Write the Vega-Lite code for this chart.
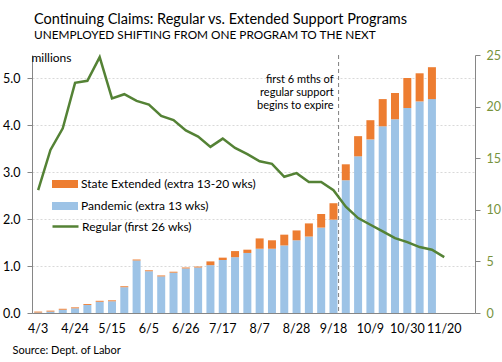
{
  "$schema": "https://vega.github.io/schema/vega-lite/v6.json",
  "autosize": {"type": "none"},
  "padding": {"left": 32, "top": 55, "right": 27, "bottom": 49},
  "width": 443,
  "height": 258,
  "background": "white",
  "config": {
    "view": {"stroke": null},
    "font": "Lato",
    "axis": {"labelFont": "Lato", "titleFont": "Lato", "labelColor": "#000000", "titleColor": "#000000", "domainColor": "#868686", "tickColor": "#868686", "titleFontWeight": "normal"}
  },
  "title": {
    "text": "Continuing Claims: Regular vs. Extended Support  Programs",
    "subtitle": "UNEMPLOYED  SHIFTING FROM ONE PROGRAM  TO THE NEXT",
    "anchor": "start",
    "frame": "group",
    "font": "Lato",
    "fontSize": 14.5,
    "fontWeight": "normal",
    "color": "#000000",
    "subtitleFont": "Lato",
    "subtitleFontSize": 11.8,
    "subtitleColor": "#000000",
    "subtitlePadding": 3,
    "offset": 6,
    "dx": 2
  },
  "datasets": {
    "claims": [
      {"week": "4/3", "series": "Pandemic (extra 13 wks)", "millions": 0.01},
      {"week": "4/3", "series": "State Extended (extra 13-20 wks)", "millions": 0.02},
      {"week": "4/10", "series": "Pandemic (extra 13 wks)", "millions": 0.03},
      {"week": "4/10", "series": "State Extended (extra 13-20 wks)", "millions": 0.02},
      {"week": "4/17", "series": "Pandemic (extra 13 wks)", "millions": 0.07},
      {"week": "4/17", "series": "State Extended (extra 13-20 wks)", "millions": 0.02},
      {"week": "4/24", "series": "Pandemic (extra 13 wks)", "millions": 0.10},
      {"week": "4/24", "series": "State Extended (extra 13-20 wks)", "millions": 0.02},
      {"week": "5/1", "series": "Pandemic (extra 13 wks)", "millions": 0.17},
      {"week": "5/1", "series": "State Extended (extra 13-20 wks)", "millions": 0.02},
      {"week": "5/8", "series": "Pandemic (extra 13 wks)", "millions": 0.24},
      {"week": "5/8", "series": "State Extended (extra 13-20 wks)", "millions": 0.02},
      {"week": "5/15", "series": "Pandemic (extra 13 wks)", "millions": 0.25},
      {"week": "5/15", "series": "State Extended (extra 13-20 wks)", "millions": 0.02},
      {"week": "5/22", "series": "Pandemic (extra 13 wks)", "millions": 0.55},
      {"week": "5/22", "series": "State Extended (extra 13-20 wks)", "millions": 0.02},
      {"week": "5/29", "series": "Pandemic (extra 13 wks)", "millions": 1.12},
      {"week": "5/29", "series": "State Extended (extra 13-20 wks)", "millions": 0.02},
      {"week": "6/5", "series": "Pandemic (extra 13 wks)", "millions": 0.89},
      {"week": "6/5", "series": "State Extended (extra 13-20 wks)", "millions": 0.02},
      {"week": "6/12", "series": "Pandemic (extra 13 wks)", "millions": 0.78},
      {"week": "6/12", "series": "State Extended (extra 13-20 wks)", "millions": 0.02},
      {"week": "6/19", "series": "Pandemic (extra 13 wks)", "millions": 0.86},
      {"week": "6/19", "series": "State Extended (extra 13-20 wks)", "millions": 0.02},
      {"week": "6/26", "series": "Pandemic (extra 13 wks)", "millions": 0.95},
      {"week": "6/26", "series": "State Extended (extra 13-20 wks)", "millions": 0.02},
      {"week": "7/3", "series": "Pandemic (extra 13 wks)", "millions": 0.97},
      {"week": "7/3", "series": "State Extended (extra 13-20 wks)", "millions": 0.02},
      {"week": "7/10", "series": "Pandemic (extra 13 wks)", "millions": 1.02},
      {"week": "7/10", "series": "State Extended (extra 13-20 wks)", "millions": 0.08},
      {"week": "7/17", "series": "Pandemic (extra 13 wks)", "millions": 1.13},
      {"week": "7/17", "series": "State Extended (extra 13-20 wks)", "millions": 0.05},
      {"week": "7/24", "series": "Pandemic (extra 13 wks)", "millions": 1.19},
      {"week": "7/24", "series": "State Extended (extra 13-20 wks)", "millions": 0.13},
      {"week": "7/31", "series": "Pandemic (extra 13 wks)", "millions": 1.28},
      {"week": "7/31", "series": "State Extended (extra 13-20 wks)", "millions": 0.07},
      {"week": "8/7", "series": "Pandemic (extra 13 wks)", "millions": 1.37},
      {"week": "8/7", "series": "State Extended (extra 13-20 wks)", "millions": 0.22},
      {"week": "8/14", "series": "Pandemic (extra 13 wks)", "millions": 1.37},
      {"week": "8/14", "series": "State Extended (extra 13-20 wks)", "millions": 0.18},
      {"week": "8/21", "series": "Pandemic (extra 13 wks)", "millions": 1.44},
      {"week": "8/21", "series": "State Extended (extra 13-20 wks)", "millions": 0.23},
      {"week": "8/28", "series": "Pandemic (extra 13 wks)", "millions": 1.55},
      {"week": "8/28", "series": "State Extended (extra 13-20 wks)", "millions": 0.21},
      {"week": "9/4", "series": "Pandemic (extra 13 wks)", "millions": 1.63},
      {"week": "9/4", "series": "State Extended (extra 13-20 wks)", "millions": 0.28},
      {"week": "9/11", "series": "Pandemic (extra 13 wks)", "millions": 1.82},
      {"week": "9/11", "series": "State Extended (extra 13-20 wks)", "millions": 0.29},
      {"week": "9/18", "series": "Pandemic (extra 13 wks)", "millions": 1.99},
      {"week": "9/18", "series": "State Extended (extra 13-20 wks)", "millions": 0.35},
      {"week": "9/25", "series": "Pandemic (extra 13 wks)", "millions": 2.83},
      {"week": "9/25", "series": "State Extended (extra 13-20 wks)", "millions": 0.34},
      {"week": "10/2", "series": "Pandemic (extra 13 wks)", "millions": 3.34},
      {"week": "10/2", "series": "State Extended (extra 13-20 wks)", "millions": 0.43},
      {"week": "10/9", "series": "Pandemic (extra 13 wks)", "millions": 3.70},
      {"week": "10/9", "series": "State Extended (extra 13-20 wks)", "millions": 0.41},
      {"week": "10/16", "series": "Pandemic (extra 13 wks)", "millions": 3.98},
      {"week": "10/16", "series": "State Extended (extra 13-20 wks)", "millions": 0.58},
      {"week": "10/23", "series": "Pandemic (extra 13 wks)", "millions": 4.13},
      {"week": "10/23", "series": "State Extended (extra 13-20 wks)", "millions": 0.56},
      {"week": "10/30", "series": "Pandemic (extra 13 wks)", "millions": 4.37},
      {"week": "10/30", "series": "State Extended (extra 13-20 wks)", "millions": 0.64},
      {"week": "11/6", "series": "Pandemic (extra 13 wks)", "millions": 4.51},
      {"week": "11/6", "series": "State Extended (extra 13-20 wks)", "millions": 0.60},
      {"week": "11/13", "series": "Pandemic (extra 13 wks)", "millions": 4.56},
      {"week": "11/13", "series": "State Extended (extra 13-20 wks)", "millions": 0.68}
    ],
    "regular": [
      {"week": "4/3", "regular": 11.9},
      {"week": "4/10", "regular": 15.8},
      {"week": "4/17", "regular": 17.9},
      {"week": "4/24", "regular": 22.3},
      {"week": "5/1", "regular": 22.5},
      {"week": "5/8", "regular": 24.8},
      {"week": "5/15", "regular": 20.8},
      {"week": "5/22", "regular": 21.2},
      {"week": "5/29", "regular": 20.55},
      {"week": "6/5", "regular": 20.2},
      {"week": "6/12", "regular": 19.1},
      {"week": "6/19", "regular": 18.7},
      {"week": "6/26", "regular": 17.7},
      {"week": "7/3", "regular": 17.1},
      {"week": "7/10", "regular": 16.1},
      {"week": "7/17", "regular": 16.9},
      {"week": "7/24", "regular": 16.0},
      {"week": "7/31", "regular": 15.4},
      {"week": "8/7", "regular": 14.7},
      {"week": "8/14", "regular": 14.45},
      {"week": "8/21", "regular": 13.2},
      {"week": "8/28", "regular": 13.55},
      {"week": "9/4", "regular": 12.7},
      {"week": "9/11", "regular": 12.7},
      {"week": "9/18", "regular": 11.9},
      {"week": "9/25", "regular": 10.3},
      {"week": "10/2", "regular": 9.2},
      {"week": "10/9", "regular": 8.55},
      {"week": "10/16", "regular": 7.9},
      {"week": "10/23", "regular": 7.26},
      {"week": "10/30", "regular": 6.87},
      {"week": "11/6", "regular": 6.39},
      {"week": "11/13", "regular": 6.13},
      {"week": "11/20", "regular": 5.42}
    ],
    "note": [
      {"note": "first 6 mths of\nregular support\nbegins to expire"}
    ]
  },
  "layer": [
    {
      "layer": [
        {
          "data": {"name": "claims"},
          "mark": {"type": "bar"},
          "encoding": {
            "x": {
              "field": "week",
              "type": "ordinal",
              "scale": {
                "domain": ["4/3","4/10","4/17","4/24","5/1","5/8","5/15","5/22","5/29","6/5","6/12","6/19","6/26","7/3","7/10","7/17","7/24","7/31","8/7","8/14","8/21","8/28","9/4","9/11","9/18","9/25","10/2","10/9","10/16","10/23","10/30","11/6","11/13","11/20","11/27","12/4"],
                "paddingInner": 0.35,
                "paddingOuter": 0.175
              },
              "axis": {
                "values": ["4/3","4/24","5/15","6/5","6/26","7/17","8/7","8/28","9/18","10/9","10/30","11/20"],
                "labelAngle": 0,
                "labelFontSize": 12.5,
                "labelPadding": 9,
                "ticks": false,
                "grid": false,
                "title": "Source: Dept. of Labor",
                "titleFontSize": 11,
                "titleAlign": "left",
                "titleBaseline": "middle",
                "titleX": -20,
                "titleY": 37
              }
            },
            "y": {
              "field": "millions",
              "type": "quantitative",
              "stack": "zero",
              "scale": {"domain": [0, 5.5], "nice": false},
              "axis": {
                "orient": "left",
                "values": [0, 1, 2, 3, 4, 5],
                "format": ".1f",
                "labelFontSize": 12.5,
                "tickSize": 5,
                "labelPadding": 7,
                "grid": true,
                "gridColor": "#D9D9D9",
                "gridDash": [2, 2],
                "title": "millions",
                "titleFontSize": 12,
                "titleAngle": 0,
                "titleAlign": "left",
                "titleBaseline": "middle",
                "titleX": -1,
                "titleY": 2
              }
            },
            "color": {
              "field": "series",
              "type": "nominal",
              "scale": {
                "domain": ["State Extended (extra 13-20 wks)", "Pandemic (extra 13 wks)"],
                "range": ["#ED7D31", "#9DC3E6"]
              },
              "legend": {
                "orient": "none",
                "legendX": 27,
                "legendY": 123,
                "title": null,
                "padding": 0,
                "symbolType": "M-2.6,-0.8H2.6V0.8H-2.6Z",
                "symbolSize": 100,
                "symbolStrokeWidth": 0,
                "labelFont": "Lato",
                "labelFontSize": 12,
                "labelColor": "#000000",
                "labelOffset": 10,
                "labelLimit": 400,
                "rowPadding": 10
              }
            },
            "order": {"field": "series", "sort": "ascending"}
          }
        },
        {
          "data": {"name": "note"},
          "mark": {"type": "rule", "color": "#7F7F7F", "strokeDash": [4, 3], "strokeWidth": 1},
          "encoding": {
            "x": {"datum": "9/25", "bandPosition": -0.4}
          }
        },
        {
          "data": {"name": "note"},
          "mark": {"type": "text", "align": "right", "baseline": "middle", "dx": -5, "lineBreak": "\n", "lineHeight": 13.3, "fontSize": 11, "font": "Lato", "color": "#000000"},
          "encoding": {
            "x": {"datum": "9/25", "bandPosition": -0.4},
            "y": {"datum": 4.97},
            "text": {"field": "note"}
          }
        }
      ]
    },
    {
      "data": {"name": "regular"},
      "mark": {"type": "line", "strokeWidth": 2.5},
      "encoding": {
        "x": {"field": "week", "type": "ordinal"},
        "y": {
          "field": "regular",
          "type": "quantitative",
          "scale": {"domain": [0, 25], "nice": false},
          "axis": {
            "orient": "right",
            "values": [0, 5, 10, 15, 20, 25],
            "labelFontSize": 12.5,
            "labelColor": "#77933C",
            "tickSize": 5,
            "labelPadding": 6,
            "grid": false,
            "title": null
          }
        },
        "stroke": {
          "datum": "Regular (first 26 wks)",
          "type": "nominal",
          "scale": {"range": ["#548235"]},
          "legend": {
            "orient": "none",
            "legendX": 27,
            "legendY": 165,
            "title": null,
            "padding": 0,
            "symbolType": "M-2.6,0H2.6",
            "symbolSize": 100,
            "symbolStrokeWidth": 2.5,
            "labelFont": "Lato",
            "labelFontSize": 12,
            "labelColor": "#000000",
            "labelOffset": 10,
            "labelLimit": 400
          }
        }
      }
    }
  ],
  "resolve": {"scale": {"y": "independent"}}
}
